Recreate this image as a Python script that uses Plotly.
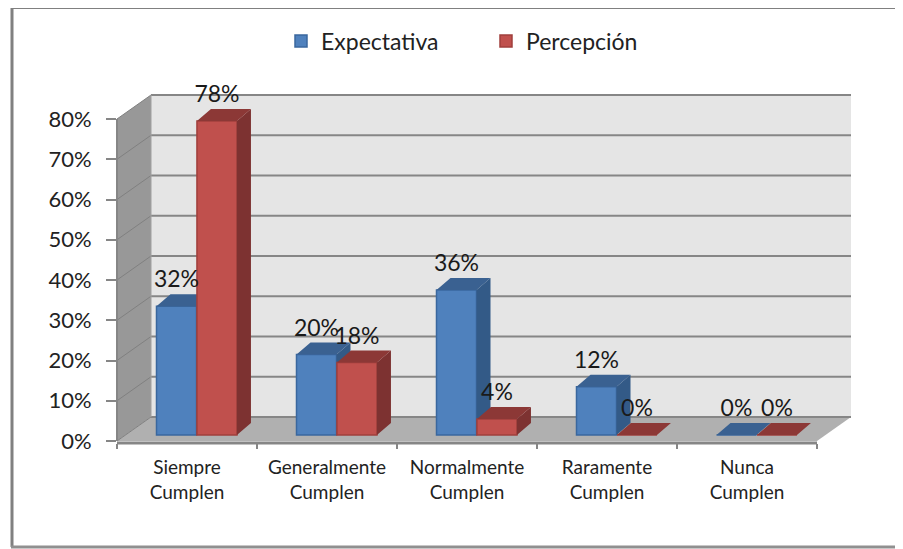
import plotly.graph_objects as go

categories = ["Siempre<br>Cumplen", "Generalmente<br>Cumplen", "Normalmente<br>Cumplen", "Raramente<br>Cumplen", "Nunca<br>Cumplen"]
expectativa = [32, 20, 36, 12, 0]
percepcion = [78, 18, 4, 0, 0]
y_ticks = [0, 10, 20, 30, 40, 50, 60, 70, 80]
y_labels = ["0%", "10%", "20%", "30%", "40%", "50%", "60%", "70%", "80%"]

W, H = 903, 549
PAGE = 8                                # the page's own margin
L, R, T, B = 117, 851, 93, 443          # plot box in window pixels
PX_X = 140.0                            # pixels per category
PX_Y = 4.025                            # pixels per percent
Y0_PX = 441
XMIN, XMAX = -0.5, -0.5 + (R - L) / PX_X
YMIN, YMAX = (Y0_PX - B) / PX_Y, (Y0_PX - T) / PX_Y

FLOOR = 6 / PX_Y
BAR_W = 40 / PX_X
OFF_BLUE, OFF_RED = -0.075, 0.214
DX, DY = 14 / PX_X, 12 / PX_Y
LABEL_UP = 24.5 / PX_Y
DEPTH_X, DEPTH_Y = 34, 24               # wall depth in pixels

def px(x):
    return (x - L) / (R - L)

def py(y):
    return (B - y) / (B - T)

def faces(vals, off):
    sx, sy, tx, ty = [], [], [], []
    for i, v in enumerate(vals):
        xl = i + off - BAR_W / 2
        xr = i + off + BAR_W / 2
        top = FLOOR + v
        sx += [xr, xr + DX, xr + DX, xr, xr, None]
        sy += [FLOOR, FLOOR + DY, top + DY, top, FLOOR, None]
        tx += [xl, xl + DX, xr + DX, xr, xl, None]
        ty += [top, top + DY, top + DY, top, top, None]
    return sx, sy, tx, ty

fig = go.Figure()

def add_series(name, vals, off, front, edge, side, topc, xa, ya):
    xs = [i + off for i in range(len(vals))]
    fig.add_trace(go.Bar(name=name, x=xs, y=vals, base=FLOOR, width=BAR_W,
                         marker=dict(color=front, line=dict(color=edge, width=1.5)),
                         xaxis=xa, yaxis=ya, hoverinfo="skip"))
    sx, sy, tx, ty = faces(vals, off)
    for fx, fy, c in ((sx, sy, side), (tx, ty, topc)):
        fig.add_trace(go.Scatter(x=fx, y=fy, mode="lines", fill="toself", fillcolor=c,
                                 line=dict(width=0, color=c), showlegend=False,
                                 hoverinfo="skip", xaxis=xa, yaxis=ya))

add_series("Expectativa", expectativa, OFF_BLUE, "#4F81BD", "#3A679E", "#335A87", "#3A6191", "x", "y")
add_series("Percepción", percepcion, OFF_RED, "#C0504D", "#A03F3C", "#7D3231", "#8C3836", "x2", "y2")

for vals, off in ((expectativa, OFF_BLUE), (percepcion, OFF_RED)):
    fig.add_trace(go.Scatter(x=[i + off for i in range(len(vals))],
                             y=[FLOOR + v + LABEL_UP for v in vals],
                             text=[f"{v}%" for v in vals], mode="text",
                             textposition="middle center",
                             textfont=dict(family="Lato", size=23, color="#1a1a1a"),
                             cliponaxis=False, showlegend=False, hoverinfo="skip",
                             xaxis="x2", yaxis="y2"))

GRAY = "#868686"
shapes = []
def poly(pts, fill, line=None, width=0):
    path = "M" + "L".join(f"{px(a):.5f},{py(b):.5f}" for a, b in pts) + "Z"
    shapes.append(dict(type="path", xref="paper", yref="paper", path=path, fillcolor=fill,
                       line=dict(color=line or fill, width=width), layer="below"))
def seg(x0, y0, x1, y1, color=GRAY, width=2, layer="below"):
    shapes.append(dict(type="line", xref="paper", yref="paper", x0=px(x0), y0=py(y0),
                       x1=px(x1), y1=py(y1), line=dict(color=color, width=width), layer=layer))

FLOOR_BACK = Y0_PX - DEPTH_Y
TOP_FRONT = Y0_PX - 80 * PX_Y
TOP_BACK = TOP_FRONT - DEPTH_Y
# back wall, side wall, floor
poly([(L + DEPTH_X, TOP_BACK), (R, TOP_BACK), (R, FLOOR_BACK), (L + DEPTH_X, FLOOR_BACK)], "#E5E5E5")
poly([(L, TOP_FRONT), (L + DEPTH_X, TOP_BACK), (L + DEPTH_X, FLOOR_BACK), (L, Y0_PX)], "#989898")
poly([(L, Y0_PX), (L + DEPTH_X, FLOOR_BACK), (R, FLOOR_BACK), (R - DEPTH_X, Y0_PX)], "#B0B0B0")
for t in y_ticks:
    yf = Y0_PX - t * PX_Y
    seg(L + DEPTH_X, yf - DEPTH_Y, R, yf - DEPTH_Y)
    seg(L, yf, L + DEPTH_X, yf - DEPTH_Y, color="#808080", width=1)
seg(L + DEPTH_X, TOP_BACK, L + DEPTH_X, FLOOR_BACK, color="#A0A0A0", width=1)
# outer axis lines
seg(L, TOP_FRONT, L, Y0_PX, color=GRAY, width=2)
seg(L, B, R - DEPTH_X, B, color=GRAY, width=3)
# outer frame
seg(12, 7, 12, 547, color="#808080", width=3)
seg(11, 7.5, W + PAGE, 7.5, color="#808080", width=3)
seg(11, 547, W + PAGE, 547, color="#909090", width=3)

axis_font = dict(family="Lato", size=22, color="#222222")
cat_font = dict(family="Lato", size=19, color="#222222")
common_x = dict(range=[XMIN, XMAX], showgrid=False, zeroline=False)
common_y = dict(range=[YMIN, YMAX], showgrid=False, zeroline=False)

fig.update_layout(
    width=W, height=H - PAGE, autosize=False,
    margin=dict(l=L - PAGE, r=W + PAGE - R, t=T - PAGE, b=H - B),
    paper_bgcolor="white", plot_bgcolor="rgba(0,0,0,0)",
    barmode="overlay", shapes=shapes,
    showlegend=True,
    legend=dict(orientation="h", x=px(281), y=py(41), xanchor="left", yanchor="middle",
                font=dict(family="Lato", size=23, color="#222222"),
                entrywidth=160, entrywidthmode="pixels", traceorder="normal",
                bgcolor="rgba(0,0,0,0)"),
    xaxis=dict(**common_x, tickmode="array", tickvals=list(range(len(categories))),
               ticktext=categories, ticks="", tickfont=cat_font, ticklabelstandoff=11,
               minor=dict(tick0=0.5, dtick=1, ticks="outside", ticklen=5, tickwidth=2,
                          tickcolor=GRAY), showline=False),
    yaxis=dict(**common_y, tickmode="array", tickvals=y_ticks, ticktext=y_labels,
               ticks="outside", ticklen=10, tickwidth=2, tickcolor=GRAY, tickfont=axis_font,
               ticklabelstandoff=10, showline=False),
    xaxis2=dict(**common_x, overlaying="x", visible=False, anchor="y2"),
    yaxis2=dict(**common_y, overlaying="y", visible=False, anchor="x2"),
)

fig.write_html("out.html")
